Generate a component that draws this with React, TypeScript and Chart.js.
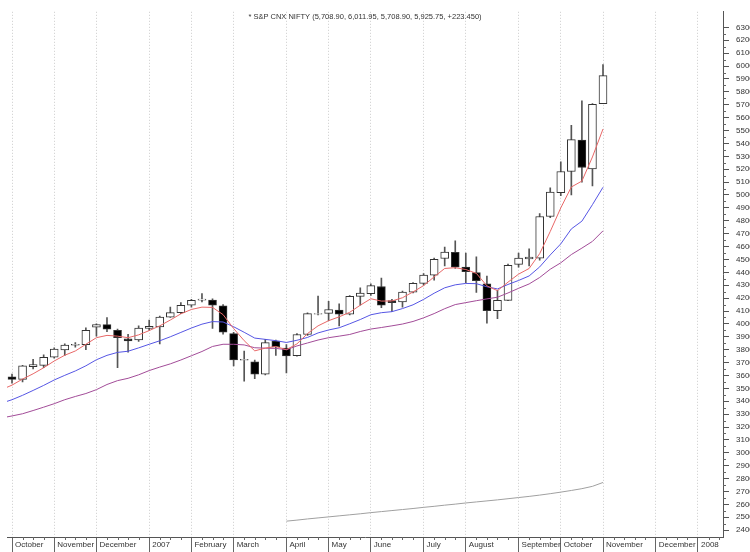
import React, { useEffect, useRef } from 'react';
import { Chart, registerables } from 'chart.js';

Chart.register(...registerables);

const TITLE = '* S&P CNX NIFTY (5,708.90, 6,011.95, 5,708.90, 5,925.75, +223.450)';

// weekly candles (week ending Friday), 2006-10-06 .. 2007-11-02
const weeks = [
  '2006-10-06', '2006-10-13', '2006-10-20', '2006-10-27', '2006-11-03', '2006-11-10', '2006-11-17', '2006-11-24',
  '2006-12-01', '2006-12-08', '2006-12-15', '2006-12-22', '2006-12-29', '2007-01-05', '2007-01-12', '2007-01-19',
  '2007-01-26', '2007-02-02', '2007-02-09', '2007-02-16', '2007-02-23', '2007-03-02', '2007-03-09', '2007-03-16',
  '2007-03-23', '2007-03-30', '2007-04-06', '2007-04-13', '2007-04-20', '2007-04-27', '2007-05-04', '2007-05-11',
  '2007-05-18', '2007-05-25', '2007-06-01', '2007-06-08', '2007-06-15', '2007-06-22', '2007-06-29', '2007-07-06',
  '2007-07-13', '2007-07-20', '2007-07-27', '2007-08-03', '2007-08-10', '2007-08-17', '2007-08-24', '2007-08-31',
  '2007-09-07', '2007-09-14', '2007-09-21', '2007-09-28', '2007-10-05', '2007-10-12', '2007-10-19', '2007-10-26',
  '2007-11-02',
];

const opens = [
  3590, 3570, 3668, 3678, 3742, 3798, 3835, 3838, 3975, 3995, 3950, 3885, 3875, 3965, 3977, 4052,
  4088, 4145, 4185, 4185, 4140, 3925, 3718, 3705, 3610, 3867, 3812, 3753, 3918, 4075, 4082, 4108,
  4075, 4213, 4235, 4290, 4180, 4170, 4246, 4315, 4378, 4507, 4555, 4440, 4398, 4310, 4102, 4183,
  4462, 4505, 4510, 4833, 5018, 5182, 5425, 5202, 5708.9,
];
const highs = [
  3610, 3678, 3725, 3760, 3815, 3845, 3855, 3970, 4000, 4050, 3960, 3920, 3985, 4030, 4060, 4130,
  4165, 4190, 4235, 4195, 4150, 3935, 3790, 3720, 3880, 3875, 3840, 3925, 4085, 4215, 4175, 4155,
  4220, 4280, 4310, 4355, 4190, 4255, 4320, 4390, 4510, 4595, 4645, 4550, 4520, 4370, 4260, 4465,
  4550, 4582, 4855, 5055, 5258, 5540, 5730, 5710, 6011.95,
];
const lows = [
  3540, 3550, 3650, 3660, 3735, 3755, 3820, 3800, 3905, 3940, 3660, 3780, 3865, 3950, 3845, 4050,
  4080, 4130, 4170, 3965, 3920, 3675, 3555, 3575, 3605, 3755, 3620, 3750, 3910, 4070, 4025, 3985,
  4070, 4145, 4220, 4125, 4095, 4130, 4240, 4300, 4340, 4450, 4430, 4320, 4245, 4005, 4040, 4180,
  4440, 4450, 4495, 4825, 4995, 5000, 5100, 5070, 5708.9,
];
const closes = [
  3570, 3675, 3685, 3740, 3805, 3835, 3842, 3950, 3995, 3960, 3893, 3868, 3968, 3982, 4052, 4088,
  4145, 4182, 4192, 4145, 3935, 3720, 3725, 3610, 3855, 3822, 3752, 3918, 4080, 4080, 4112, 4075,
  4213, 4240, 4297, 4145, 4165, 4247, 4315, 4378, 4500, 4557, 4440, 4405, 4335, 4102, 4183, 4455,
  4510, 4518, 4833, 5022, 5182, 5430, 5213, 5702.3, 5925.75,
];

// moving averages, first value is one week before the first candle
const maFast = [
  3490, 3525, 3572, 3613, 3660, 3712, 3757, 3790, 3842, 3893, 3911, 3905, 3893, 3915, 3948, 3985,
  4030, 4078, 4112, 4130, 4128, 4072, 3964, 3870, 3791, 3812, 3825, 3800, 3845, 3925, 3985, 4025,
  4055, 4090, 4145, 4195, 4177, 4178, 4203, 4248, 4297, 4365, 4430, 4436, 4422, 4392, 4295, 4258,
  4324, 4386, 4430, 4545, 4717, 4900, 5062, 5108, 5295, 5512,
];
const maMid = [
  3385, 3412, 3446, 3484, 3523, 3565, 3601, 3635, 3675, 3722, 3756, 3779, 3788, 3814, 3842, 3869,
  3900, 3934, 3968, 3998, 4018, 4015, 3978, 3935, 3890, 3880, 3870, 3856, 3873, 3895, 3930, 3953,
  3970, 4001, 4034, 4071, 4087, 4095, 4119, 4148, 4190, 4238, 4280, 4303, 4314, 4312, 4288, 4271,
  4306, 4337, 4372, 4442, 4535, 4621, 4737, 4797, 4925, 5060,
];
const maSlow = [
  3270, 3286, 3303, 3328, 3354, 3381, 3412, 3437, 3460, 3490, 3530, 3560, 3578, 3605, 3638, 3665,
  3690, 3720, 3753, 3786, 3825, 3842, 3842, 3837, 3815, 3812, 3810, 3800, 3829, 3852, 3875, 3893,
  3905, 3918, 3941, 3960, 3972, 3985, 3999, 4019, 4047, 4080, 4118, 4150, 4165, 4180, 4194, 4207,
  4240, 4276, 4310, 4360, 4424, 4474, 4538, 4588, 4640, 4722,
];
const maFastStart = -1;
// long average, starts at candle index 26 (April 2007)
const maLong = [
  2470, 2478, 2487, 2495, 2503, 2511, 2519, 2527, 2536, 2544, 2552, 2560, 2568, 2577, 2585, 2594,
  2602, 2611, 2619, 2627, 2635, 2644, 2653, 2662, 2672, 2683, 2695, 2708, 2722, 2740, 2770,
];
const maLongStart = 26;

// month boundaries on the week axis
const monthTickIdx = [0, 4, 8, 13, 17, 21, 26, 30, 34, 39, 43, 48, 52, 56, 61, 65];
const monthLabels = [
  'October', 'November', 'December', '2007', 'February', 'March', 'April', 'May',
  'June', 'July', 'August', 'September', 'October', 'November', 'December', '2008',
];
const lastWeekIdx = 67;
const yTickMin = 2400;
const yTickMax = 6300;
const yTickStep = 100;

const FONT = "'Liberation Sans', Arial, sans-serif";

const decorPlugin = {
  id: 'decor',
  afterDraw(chart: any) {
    const { ctx, chartArea, scales } = chart;
    const x = scales.x;
    const y = scales.y;
    ctx.save();
    ctx.strokeStyle = '#666';
    ctx.lineWidth = 1;
    ctx.beginPath();
    for (let i = 0; i <= lastWeekIdx; i++) {
      if (monthTickIdx.includes(i)) continue;
      const px = Math.round(x.getPixelForValue(i)) + 0.5;
      ctx.moveTo(px, chartArea.bottom);
      ctx.lineTo(px, chartArea.bottom + 3);
    }
    for (let v = yTickMin + yTickStep / 2; v < yTickMax; v += yTickStep) {
      const py = Math.round(y.getPixelForValue(v)) + 0.5;
      ctx.moveTo(chartArea.right, py);
      ctx.lineTo(chartArea.right + 3, py);
    }
    ctx.stroke();
    ctx.fillStyle = '#333';
    ctx.font = `7.5px ${FONT}`;
    ctx.textAlign = 'center';
    ctx.textBaseline = 'middle';
    ctx.fillText(TITLE, (chartArea.left + chartArea.right) / 2, 17);
    ctx.restore();
  },
};

export default function App() {
  const ref = useRef<HTMLCanvasElement>(null);

  useEffect(() => {
    if (!ref.current) return;
    const idx = opens.map((_, i) => i);
    const wickData = idx.map((i) => ({ x: i, y: [lows[i], highs[i]] }));
    const bodyData = idx.map((i) => ({ x: i, y: [opens[i], closes[i]] }));
    const line = (arr: number[], start: number) => arr.map((v, k) => ({ x: start + k, y: v }));

    const chart = new Chart(ref.current, {
      type: 'bar',
      data: {
        datasets: [
          {
            type: 'line',
            label: 'fast',
            data: line(maFast, maFastStart),
            borderColor: '#e86868',
            borderWidth: 1,
            pointRadius: 0,
            order: 0,
          } as any,
          {
            type: 'line',
            label: 'mid',
            data: line(maMid, maFastStart),
            borderColor: '#5656e4',
            borderWidth: 1,
            pointRadius: 0,
            order: 0,
          } as any,
          {
            type: 'line',
            label: 'slow',
            data: line(maSlow, maFastStart),
            borderColor: '#a24c98',
            borderWidth: 1,
            pointRadius: 0,
            order: 0,
          } as any,
          {
            type: 'line',
            label: 'long',
            data: line(maLong, maLongStart),
            borderColor: '#a0a0a0',
            borderWidth: 1,
            pointRadius: 0,
            order: 0,
          } as any,
          {
            label: 'body',
            data: bodyData as any,
            grouped: false,
            barThickness: 8,
            borderWidth: 1,
            borderSkipped: false,
            borderColor: '#333',
            backgroundColor: (c: any) =>
              closes[c.dataIndex] < opens[c.dataIndex] ? '#000' : '#fff',
            order: 1,
          } as any,
          {
            label: 'wick',
            data: wickData as any,
            grouped: false,
            barThickness: 1,
            borderWidth: 0,
            backgroundColor: '#555',
            order: 2,
          } as any,
        ],
      },
      options: {
        animation: false,
        responsive: false,
        devicePixelRatio: 1,
        layout: { padding: { left: 7, right: 0, top: 0, bottom: 0 } },
        plugins: { legend: { display: false }, tooltip: { enabled: false }, title: { display: false } },
        scales: {
          x: {
            type: 'linear',
            min: -0.474,
            max: 67.37,
            offset: false,
            afterBuildTicks: (s: any) => {
              s.ticks = monthTickIdx.map((v) => ({ value: v }));
            },
            afterFit: (s: any) => {
              s.height = 15;
            },
            grid: {
              offset: false,
              display: true,
              drawOnChartArea: true,
              drawTicks: true,
              color: '#cccccc',
              lineWidth: 1,
              tickLength: 15,
              tickColor: '#666',
              tickBorderDash: [],
            },
            border: { display: true, color: '#555', dash: [1, 2] },
            ticks: {
              autoSkip: false,
              maxRotation: 0,
              minRotation: 0,
              align: 'start',
              labelOffset: 3,
              padding: -12,
              color: '#333',
              font: { family: FONT, size: 8 },
              callback: (v: any) => {
                const k = monthTickIdx.indexOf(Number(v));
                return k >= 0 ? monthLabels[k] : '';
              },
            },
          } as any,
          y: {
            type: 'linear',
            position: 'right',
            min: 2347,
            max: 6421,
            afterBuildTicks: (s: any) => {
              const t: any[] = [];
              for (let v = yTickMin; v <= yTickMax; v += yTickStep) t.push({ value: v });
              s.ticks = t;
            },
            afterFit: (s: any) => {
              s.width = 27;
            },
            grid: {
              display: true,
              drawOnChartArea: false,
              drawTicks: true,
              tickLength: 6,
              tickColor: '#555',
            },
            border: { display: true, color: '#555' },
            ticks: {
              padding: 7,
              color: '#333',
              font: { family: FONT, size: 8 },
              callback: (v: any) => String(v),
            },
          } as any,
        },
      },
      plugins: [decorPlugin],
    });
    return () => chart.destroy();
  }, []);

  return (
    <div style={{ position: 'absolute', left: 0, top: 0, width: 750, height: 552, background: '#fff' }}>
      <canvas ref={ref} width={750} height={552} style={{ width: 750, height: 552, display: 'block' }} />
    </div>
  );
}
